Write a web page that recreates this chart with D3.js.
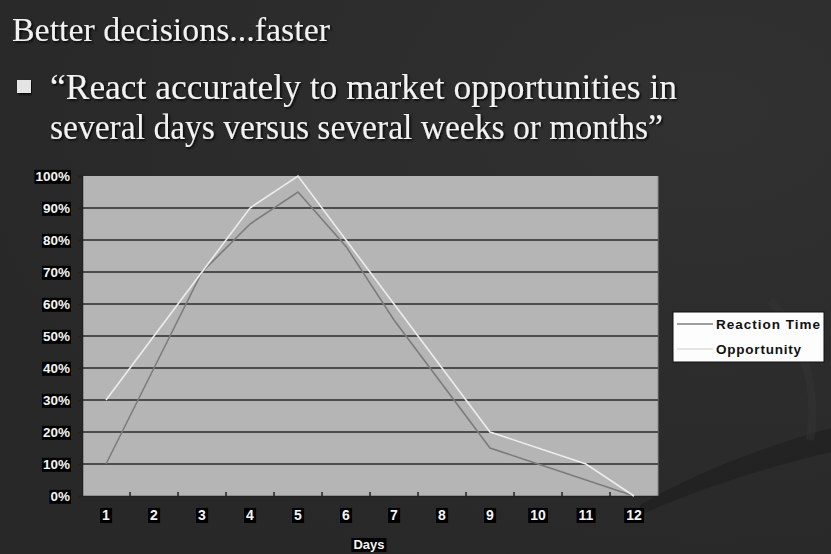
<!DOCTYPE html>
<html>
<head>
<meta charset="utf-8">
<script src="https://cdn.jsdelivr.net/npm/d3@7"></script>
<style>
  html, body { margin: 0; padding: 0; background: #2a2a2a; }
  svg { display: block; }
</style>
</head>
<body>
<svg id="slide" width="831" height="554"></svg>
<script>
// Chart data
const days = [1, 2, 3, 4, 5, 6, 7, 8, 9, 10, 11, 12];
const reactionTime = [0.10, 0.40, 0.70, 0.85, 0.95, 0.78, 0.55, 0.35, 0.15, 0.10, 0.05, 0.00];
const opportunity  = [0.30, 0.50, 0.70, 0.90, 1.00, 0.80, 0.60, 0.40, 0.20, 0.15, 0.10, 0.00];
const yTicks = [0, 0.1, 0.2, 0.3, 0.4, 0.5, 0.6, 0.7, 0.8, 0.9, 1.0];
const seriesNames = ["Reaction Time", "Opportunity"];
const xTitle = "Days";
const slideTitle = "Better decisions...faster";
const bulletLines = [
  "\u201CReact accurately to market opportunities in",
  "several days versus several weeks or months\u201D"
];

const W = 831, H = 554;
const svg = d3.select("#slide");
const defs = svg.append("defs");

// slide background
const bg = defs.append("radialGradient").attr("id", "bgGrad")
  .attr("cx", "0.85").attr("cy", "0.2").attr("r", "0.9");
bg.append("stop").attr("offset", "0").attr("stop-color", "#313131");
bg.append("stop").attr("offset", "1").attr("stop-color", "#282828");
svg.append("rect").attr("width", W).attr("height", H).attr("fill", "url(#bgGrad)");

// faint decorative swooshes at the lower right
svg.append("path")
  .attr("d", "M640,505 C700,470 770,445 831,428 L831,452 C770,466 700,488 640,515 Z")
  .attr("fill", "#1e1e1e").attr("opacity", 0.6);
svg.append("path")
  .attr("d", "M770,300 C805,340 818,390 810,440")
  .attr("fill", "none").attr("stroke", "#333").attr("stroke-width", 8).attr("opacity", 0.5);

// text shadow
const sh = defs.append("filter").attr("id", "shadow").attr("x", "-5%").attr("y", "-20%")
  .attr("width", "110%").attr("height", "140%");
sh.append("feDropShadow").attr("dx", 1.5).attr("dy", 1.5).attr("stdDeviation", 1)
  .attr("flood-color", "#000").attr("flood-opacity", 0.9);

const serif = "'Liberation Serif', 'DejaVu Serif', serif";
svg.append("text").attr("x", 12).attr("y", 41)
  .attr("font-family", serif).attr("font-size", 34).attr("fill", "#f2f2f2")
  .attr("filter", "url(#shadow)")
  .attr("textLength", 318).attr("lengthAdjust", "spacingAndGlyphs")
  .text(slideTitle);

svg.append("rect").attr("x", 17).attr("y", 80).attr("width", 14).attr("height", 13)
  .attr("fill", "#e4e4e4").attr("filter", "url(#shadow)");

const lineLens = [627, 613];
bulletLines.forEach((t, i) => {
  svg.append("text").attr("x", 50).attr("y", 99 + i * 40)
    .attr("font-family", serif).attr("font-size", 35).attr("fill", "#f2f2f2")
    .attr("filter", "url(#shadow)")
    .attr("textLength", lineLens[i]).attr("lengthAdjust", "spacingAndGlyphs")
    .text(t);
});

// plot area
const plot = { left: 82, right: 658, top: 176, bottom: 496 };
const x = d3.scaleBand().domain(days).range([plot.left, plot.right]);
const y = d3.scaleLinear().domain([0, 1]).range([plot.bottom, plot.top]);
const cx = d => x(d) + x.bandwidth() / 2;

svg.append("rect").attr("x", plot.left).attr("y", plot.top)
  .attr("width", plot.right - plot.left).attr("height", plot.bottom - plot.top)
  .attr("fill", "#b5b5b5");
svg.append("line").attr("x1", plot.right).attr("x2", plot.right)
  .attr("y1", plot.top).attr("y2", plot.bottom)
  .attr("stroke", "#8a8a8a").attr("stroke-width", 1);

// horizontal gridlines
svg.append("g").selectAll("line").data(yTicks.filter(v => v > 0 && v < 1)).join("line")
  .attr("x1", plot.left - 4).attr("x2", plot.right)
  .attr("y1", d => y(d)).attr("y2", d => y(d))
  .attr("stroke", "#2a2a2a").attr("stroke-width", 1.5);

const bold = "'Liberation Sans', Arial, sans-serif";

// label with a black box behind it
function boxLabel(g, padX) {
  const t = g.select("text");
  const bb = t.node().getBBox();
  g.insert("rect", "text").attr("x", bb.x - padX).attr("y", bb.y + 1)
    .attr("width", bb.width + 2 * padX).attr("height", bb.height - 1).attr("fill", "#000");
}

// y axis
const yAxis = svg.append("g").attr("transform", `translate(${plot.left},0)`)
  .call(d3.axisLeft(y).tickValues(yTicks).tickFormat(d3.format(".0%")).tickSize(4).tickPadding(6));
yAxis.select(".domain").attr("stroke", "#222").attr("stroke-width", 1.5);
yAxis.selectAll(".tick line").attr("stroke", "#222").attr("stroke-width", 1.5);
yAxis.selectAll(".tick text")
  .attr("font-family", bold).attr("font-weight", "bold").attr("font-size", 13.5)
  .attr("fill", "#f4f4f4").attr("x", -12);
yAxis.selectAll(".tick").each(function () { boxLabel(d3.select(this), 1); });

// x axis: ticks sit on category boundaries, pointing into the plot
const xAxis = svg.append("g").attr("transform", `translate(0,${plot.bottom})`)
  .call(d3.axisBottom(x).tickSize(0).tickPadding(14));
xAxis.select(".domain").attr("stroke", "#222").attr("stroke-width", 1.5);
xAxis.selectAll(".tick text")
  .attr("font-family", bold).attr("font-weight", "bold").attr("font-size", 14)
  .attr("fill", "#f4f4f4");
xAxis.selectAll(".tick").each(function () { boxLabel(d3.select(this), 2); });
svg.append("g").selectAll("line").data(days.slice(1)).join("line")
  .attr("x1", d => x(d)).attr("x2", d => x(d))
  .attr("y1", plot.bottom).attr("y2", plot.bottom - 4)
  .attr("stroke", "#222").attr("stroke-width", 1.5);

// x axis title
const xtg = svg.append("g");
xtg.append("text").attr("x", (plot.left + plot.right) / 2 - 1).attr("y", 549)
  .attr("text-anchor", "middle")
  .attr("font-family", bold).attr("font-weight", "bold").attr("font-size", 13)
  .attr("fill", "#f4f4f4").text(xTitle);
boxLabel(xtg, 2);

// series lines
const colors = ["#7c7c7c", "#ececec"];
const line = d3.line().x((d, i) => cx(days[i])).y(d => y(d));
[reactionTime, opportunity].forEach((vals, i) => {
  svg.append("path").datum(vals)
    .attr("d", line)
    .attr("fill", "none").attr("stroke", colors[i]).attr("stroke-width", 1.6)
    .attr("stroke-linejoin", "miter");
});

// legend
const lg = svg.append("g");
lg.append("rect").attr("x", 673).attr("y", 312).attr("width", 151).attr("height", 50)
  .attr("fill", "#fdfdfd").attr("stroke", "#111").attr("stroke-width", 1);
const legendTextLen = [104, 85];
seriesNames.forEach((name, i) => {
  const ly = 324 + i * 25;
  lg.append("line").attr("x1", 677).attr("x2", 713).attr("y1", ly).attr("y2", ly)
    .attr("stroke", i === 0 ? "#7c7c7c" : "#dcdcdc").attr("stroke-width", 1.6);
  lg.append("text").attr("x", 716).attr("y", ly + 5)
    .attr("font-family", bold).attr("font-weight", "bold").attr("font-size", 13.5)
    .attr("textLength", legendTextLen[i]).attr("lengthAdjust", "spacing")
    .attr("fill", "#111").text(name);
});
</script>
</body>
</html>
